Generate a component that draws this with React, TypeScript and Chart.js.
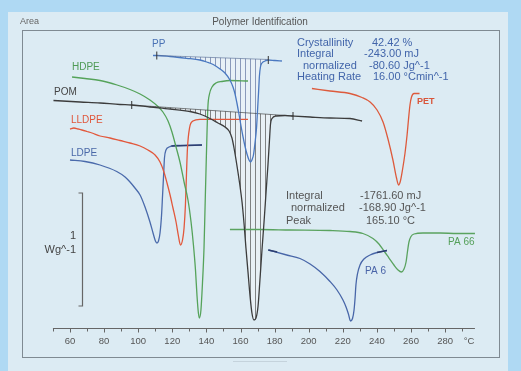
import React, { useEffect, useRef } from "react";
import { Chart, registerables } from "chart.js";

Chart.register(...registerables);

// Temperature (°C) and heat-flow (arbitrary units, 113 units = 1 W/g)
const ldpeT = [60.0, 68.8, 77.6, 87.4, 92.3, 95.2, 98.1, 101.1, 104.0, 106.9, 108.7, 110.1, 111.0, 111.9, 112.8, 113.7, 114.3, 114.9, 115.4, 116.3, 118.1, 121.6, 137.4];
const ldpeV = [198, 196.5, 193, 186.5, 181, 176, 170, 163, 151, 136, 125, 117, 115, 117, 125, 143, 163, 183, 200, 208, 211, 212.5, 213];
const ldpeEndT = [119.5, 137.4];
const ldpeEndV = [212, 213];

const lldpeT = [60.0, 62.3, 64.7, 67.0, 70.0, 72.9, 77.6, 83.5, 89.3, 95.2, 101.1, 105.7, 109.9, 112.8, 115.1, 116.9, 118.7, 120.4, 122.2, 123.6, 124.8, 126.0, 126.9, 127.7, 128.3, 128.9, 130.1, 132.1, 136.2, 164.4];
const lldpeV = [229, 230, 229, 228, 226.5, 225, 222, 220, 217.5, 215, 212, 208, 203, 196, 186, 175, 163, 150, 136, 122, 113, 118, 130, 153, 183, 210, 230, 237, 238.7, 238.7];

const hdpeT = [61.2, 68.8, 77.6, 87.6, 95.2, 101.1, 106.9, 111.6, 114.5, 117.5, 119.8, 122.2, 124.5, 126.9, 129.2, 131.0, 132.4, 133.6, 134.5, 135.3, 135.9, 136.8, 137.7, 138.6, 139.2, 139.8, 140.4, 140.9, 141.8, 143.3, 145.6, 149.1, 153.8, 164.4];
const hdpeV = [281, 279.5, 277.5, 273, 268.5, 264, 258, 251.5, 246, 237, 226, 211, 196, 176, 158, 136, 113, 88, 62, 45, 40, 48, 75, 110, 150, 190, 228, 252, 264, 271, 275, 276.5, 277.5, 277];

const pomT = [50.3, 65.9, 77.6, 89.3, 96.2, 106.9, 118.7, 130.4, 136.2, 142.1, 146.8, 150.9, 153.3, 155.0, 156.2, 157.4, 158.5, 159.7, 160.9, 162.1, 163.2, 164.4, 165.6, 166.7, 167.9, 169.1, 170.3, 171.4, 172.6, 173.8, 175.0, 176.1, 177.0, 177.6, 178.5, 180.8, 186.1, 190.8, 200.8, 212.5, 224.2, 231.3];
const pomV = [257.5, 256, 255, 253.5, 253, 251, 249, 246.5, 244, 239.5, 235, 231, 227, 220, 210, 198, 186, 172, 156, 134, 110, 86, 62, 45, 38, 40, 52, 78, 108, 136, 166, 193, 218, 234, 239.5, 242, 242.5, 242, 241, 240, 239.5, 237];
const pomBaseT = [96.2, 190.8];
const pomBaseV = [253, 242];

const ppT = [108.7, 110.9, 118.7, 128.4, 136.2, 140.2, 144.0, 148.0, 150.9, 153.8, 155.6, 156.8, 157.9, 159.1, 160.3, 161.5, 162.6, 163.8, 165.0, 165.9, 166.7, 167.6, 168.5, 169.4, 170.0, 170.6, 171.1, 171.7, 172.6, 174.4, 176.3, 180.2, 184.3];
const ppV = [302.5, 302.5, 301.5, 299.7, 298, 296, 293.5, 289, 285, 278, 271, 264, 255, 244, 232, 221, 212, 204, 198, 196, 198, 203, 215, 230, 248, 266, 282, 291, 295, 297, 298, 297.5, 297];
const ppBaseT = [110.9, 176.3];
const ppBaseV = [302.5, 298.5];

const petT = [201.9, 212.5, 224.2, 231.3, 236.0, 240.1, 243.6, 246.5, 249.4, 251.5, 252.7, 253.8, 255.0, 256.5, 257.7, 258.5, 259.4, 260.3, 261.8, 265.0];
const petV = [269.5, 267, 264.5, 260.5, 256, 248, 236, 219, 198, 180, 173, 177, 188, 205, 223, 238, 253, 261, 264.5, 264.5];

const pa6T = [176.3, 187.1, 194.9, 200.8, 206.6, 212.5, 216.6, 220.1, 221.9, 223.3, 224.5, 225.7, 226.6, 227.2, 227.7, 228.6, 230.1, 232.4, 236.0, 240.1, 245.9];
const pa6V = [108, 103, 99.5, 94, 86.5, 76.5, 68, 58, 51, 44, 37, 39.5, 48, 60, 73, 84, 93, 99, 103, 105.5, 107.5];
const pa6StartT = [176.3, 181.5];
const pa6StartV = [108, 106];
const pa6EndT = [240.1, 245.9];
const pa6EndV = [105.5, 107.5];

const pa66T = [153.8, 171.4, 189.0, 212.5, 224.2, 231.8, 237.7, 241.2, 244.2, 247.1, 250.0, 252.4, 254.4, 255.9, 257.1, 257.9, 258.8, 260.0, 261.8, 267.0, 277.0, 287.0, 297.5];
const pa66V = [128.5, 128.5, 128, 127.5, 126.5, 124.5, 119.5, 114, 107, 100, 93, 88, 86, 89, 96, 106, 116, 121.5, 124, 125, 125, 124.5, 124.5];

const limitT = [110.9, 176.3, 96.2, 190.8];
const limitV = [302.5, 298, 253, 242];

const majorTicks = [60, 80, 100, 120, 140, 160, 180, 200, 220, 240, 260, 280];
const minorTicks = [50, 70, 90, 110, 130, 150, 170, 190, 210, 230, 250, 270, 290];
const axisEndT = 297.5;
const axisLevel = 30;
const scaleBarT = 67;
const scaleBarFrom = 52;
const scaleBarUnits = 113; // 1 W/g

const FONT = '"Liberation Sans", Arial, sans-serif';

function pts(t: number[], v: number[]) {
  return t.map((x, i) => ({ x, y: v[i] }));
}

function hatch(ctx: CanvasRenderingContext2D, line: string, bg: string, w: number) {
  const c = document.createElement("canvas");
  c.width = w;
  c.height = 2;
  const g = c.getContext("2d")!;
  g.fillStyle = bg;
  g.fillRect(0, 0, w, 2);
  g.fillStyle = line;
  g.fillRect(0, 0, 1, 2);
  return ctx.createPattern(c, "repeat");
}

const decor = {
  id: "decor",
  beforeDraw(chart: any) {
    const { ctx, scales } = chart;
    const x = scales.x;
    const y = scales.y;
    ctx.save();
    ctx.fillStyle = "#afd9f3";
    ctx.fillRect(0, 0, 521, 371);
    ctx.fillStyle = "#dcebf3";
    ctx.fillRect(8, 12, 500, 359);
    ctx.strokeStyle = "#7f8a92";
    ctx.lineWidth = 1;
    ctx.strokeRect(22.5, 30.5, 477, 327);
    ctx.strokeStyle = "#c5d3dc";
    ctx.beginPath();
    ctx.moveTo(233, 361.5);
    ctx.lineTo(287, 361.5);
    ctx.stroke();

    // temperature axis
    const ay = Math.round(y.getPixelForValue(axisLevel)) + 0.5;
    ctx.strokeStyle = "#666";
    ctx.beginPath();
    ctx.moveTo(x.getPixelForValue(50), ay);
    ctx.lineTo(x.getPixelForValue(axisEndT), ay);
    ctx.stroke();
    ctx.beginPath();
    for (const t of majorTicks) {
      const px = Math.round(x.getPixelForValue(t)) + 0.5;
      ctx.moveTo(px, ay);
      ctx.lineTo(px, ay + 4);
    }
    for (const t of minorTicks) {
      const px = Math.round(x.getPixelForValue(t)) + 0.5;
      ctx.moveTo(px, ay);
      ctx.lineTo(px, ay + 3);
    }
    ctx.stroke();
    ctx.fillStyle = "#555";
    ctx.font = `9.5px ${FONT}`;
    ctx.textAlign = "center";
    ctx.textBaseline = "middle";
    for (const t of majorTicks) {
      ctx.fillText(String(t), x.getPixelForValue(t), ay + 13);
    }
    ctx.fillText("°C", x.getPixelForValue(294), ay + 13);

    // scale bar 1 W/g
    const sx = Math.round(x.getPixelForValue(scaleBarT)) + 0.5;
    const sy1 = y.getPixelForValue(scaleBarFrom);
    const sy2 = y.getPixelForValue(scaleBarFrom + scaleBarUnits);
    ctx.strokeStyle = "#666";
    ctx.lineWidth = 1.2;
    ctx.beginPath();
    ctx.moveTo(sx - 4, sy2);
    ctx.lineTo(sx, sy2);
    ctx.lineTo(sx, sy1);
    ctx.lineTo(sx - 4, sy1);
    ctx.stroke();
    ctx.restore();
  },
  afterDraw(chart: any) {
    const { ctx } = chart;
    ctx.save();
    ctx.textBaseline = "middle";
    const t = (s: string, px: number, py: number, color: string, size: number, align = "left", weight = "") => {
      ctx.font = `${weight} ${size}px ${FONT}`;
      ctx.fillStyle = color;
      ctx.textAlign = align;
      ctx.fillText(s, px, py);
    };
    t("Area", 20, 22, "#666", 9);
    t("Polymer Identification", 260, 22, "#555", 10, "center");

    const b1 = "#4265aa";
    t("Crystallinity", 297, 43, b1, 11);
    t("42.42 %", 372, 43, b1, 11);
    t("Integral", 297, 54, b1, 11);
    t("-243.00 mJ", 364, 54, b1, 11);
    t("normalized", 303, 66, b1, 11);
    t("-80.60 Jg^-1", 369, 66, b1, 11);
    t("Heating Rate", 297, 77, b1, 11);
    t("16.00 °Cmin^-1", 373, 77, b1, 11);

    const b2 = "#555";
    t("Integral", 286, 196, b2, 11);
    t("-1761.60 mJ", 360, 196, b2, 11);
    t("normalized", 291, 208, b2, 11);
    t("-168.90 Jg^-1", 359, 208, b2, 11);
    t("Peak", 286, 221, b2, 11);
    t("165.10 °C", 366, 221, b2, 11);

    t("HDPE", 72, 67, "#4f9a55", 10);
    t("POM", 54, 92, "#444", 10);
    t("LLDPE", 71, 120, "#e0553a", 10);
    t("LDPE", 71, 153, "#4a68a8", 10);
    t("PP", 152, 44, "#4a72b5", 10);
    t("PET", 417, 102, "#d9553a", 9, "left", "bold");
    t("PA 6", 365, 271, "#4a64a8", 10);
    t("PA 66", 448, 242, "#55a05a", 10);

    t("1", 76, 236, "#444", 11, "right");
    t("Wg^-1", 76, 250, "#444", 11, "right");
    ctx.restore();
  },
};

export default function App() {
  const ref = useRef<HTMLCanvasElement>(null);
  useEffect(() => {
    const canvas = ref.current!;
    const ctx = canvas.getContext("2d")!;
    const ppPat = hatch(ctx, "rgba(95,115,160,0.7)", "rgba(242,246,250,0.55)", 5);
    const pomPat = hatch(ctx, "rgba(70,70,70,0.65)", "rgba(242,244,246,0.55)", 5);
    const line = (data: any, color: string, w = 1.3, extra: any = {}) => ({
      data,
      borderColor: color,
      backgroundColor: color,
      borderWidth: w,
      pointRadius: 0,
      fill: false,
      cubicInterpolationMode: "monotone",
      ...extra,
    });
    const chart = new Chart(canvas, {
      type: "line",
      data: {
        datasets: [
          line(pts(limitT, limitV), "#333", 1, { showLine: false, pointRadius: 4, pointStyle: "line", rotation: 90, pointBorderWidth: 1 }),
          line(pts(ppBaseT, ppBaseV), "rgba(90,110,150,0.8)", 0.8),
          line(pts(ppT, ppV), "#4a78c0", 1.3, { fill: "-1", backgroundColor: ppPat }),
          line(pts(pomBaseT, pomBaseV), "rgba(60,60,60,0.8)", 0.8),
          line(pts(pomT, pomV), "#3c3c3c", 1.3, { fill: "-1", backgroundColor: pomPat }),
          line(pts(hdpeT, hdpeV), "#55a35a"),
          line(pts(lldpeT, lldpeV), "#e2583c"),
          line(pts(ldpeEndT, ldpeEndV), "#2e3f70", 1.6),
          line(pts(ldpeT, ldpeV), "#4a6aab"),
          line(pts(petT, petV), "#dd5a3c"),
          line(pts(pa6StartT, pa6StartV), "#2e3f70", 1.5),
          line(pts(pa6EndT, pa6EndV), "#2e3f70", 1.5),
          line(pts(pa6T, pa6V), "#4866a8"),
          line(pts(pa66T, pa66V), "#5aa35f"),
        ],
      },
      options: {
        responsive: false,
        animation: false,
        devicePixelRatio: 1,
        layout: { padding: { left: 52.95, right: 41.8, top: 30, bottom: 13 } },
        scales: {
          x: { type: "linear", min: 50, max: 300, display: false },
          y: { type: "linear", min: 0, max: 328, display: false },
        },
        plugins: {
          legend: { display: false },
          tooltip: { enabled: false },
          filler: { drawTime: "beforeDatasetsDraw" },
        },
      } as any,
      plugins: [decor],
    });
    return () => chart.destroy();
  }, []);
  return (
    <div style={{ position: "fixed", left: 0, top: 0, width: 521, height: 371 }}>
      <canvas ref={ref} width={521} height={371} style={{ display: "block" }} />
    </div>
  );
}
